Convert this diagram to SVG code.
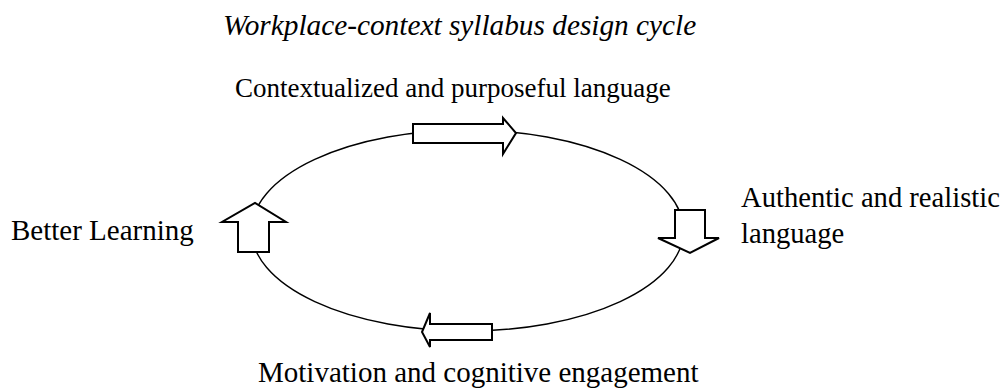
<svg xmlns="http://www.w3.org/2000/svg" width="1008" height="391" viewBox="0 0 1008 391">
  <style>
    .lbl { font-family: "Liberation Serif", "Times New Roman", serif; font-size: 27px; fill: #000; }
    .title { font-style: italic; font-size: 29.3px; }
    .cycle { fill: none; stroke: #000; stroke-width: 1.4; }
    .block { fill: #fff; stroke: #000; stroke-width: 2; stroke-linejoin: miter; }
  </style>
  <rect width="1008" height="391" fill="#fff"/>

  <text id="title" class="lbl title" x="223" y="35">Workplace-context syllabus design cycle</text>

  <!-- cycle ring -->
  <g id="connectors">
    <ellipse class="cycle" cx="467.5" cy="230.5" rx="216" ry="100.5"/>
  </g>

  <!-- block arrows along the ring -->
  <g id="arrow-top">
    <polygon class="block" points="413,124 503,124 503,118 516,133 503,154 503,143 413,143"/>
  </g>
  <g id="arrow-right">
    <polygon class="block" points="675,210 705,210 705,238 719,238 690,253 658,238 675,238"/>
  </g>
  <g id="arrow-bottom">
    <polygon class="block" points="492,324 430,324 430,313 422,332 430,347 430,340 492,340"/>
  </g>
  <g id="arrow-left">
    <polygon class="block" points="238,252 269,252 269,222 286,222 255,203 222,222 238,222"/>
  </g>

  <g id="node-contextualized">
    <text class="lbl" x="235" y="97">Contextualized and purposeful language</text>
  </g>
  <g id="node-authentic">
    <text class="lbl" x="741" y="207" style="font-size:28.6px">Authentic and realistic</text>
    <text class="lbl" x="741" y="243" style="font-size:28.6px">language</text>
  </g>
  <g id="node-motivation">
    <text class="lbl" x="258" y="382" style="font-size:29px">Motivation and cognitive engagement</text>
  </g>
  <g id="node-better">
    <text class="lbl" x="11" y="240" style="font-size:29px">Better Learning</text>
  </g>
</svg>
